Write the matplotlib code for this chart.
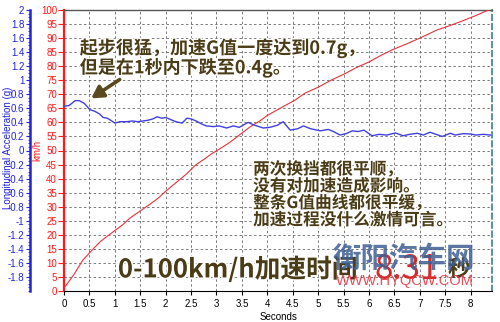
import matplotlib
matplotlib.use("Agg")
import matplotlib.pyplot as plt
import matplotlib.patheffects as pe
from matplotlib.ticker import MultipleLocator

plt.rcParams['font.family'] = ['Liberation Sans', 'Noto Sans CJK SC', 'DejaVu Sans']

# ---- data ----
time_speed = [0, 0.2, 0.37, 0.55, 0.71, 0.85, 1.0, 1.15, 1.3, 1.5, 1.7, 1.85, 2.0, 2.2, 2.4,
              2.6, 2.75, 2.9, 3.1, 3.27, 3.45, 3.66, 3.85, 4.0, 4.3, 4.55, 4.74, 5.0, 5.25,
              5.49, 5.75, 6.0, 6.25, 6.48, 6.75, 7.0, 7.34, 7.6, 7.85, 8.1, 8.35]
speed_kmh = [1, 6, 11, 14.5, 17.5, 19.5, 21.5, 23.5, 26, 28.5, 31, 33, 35.5, 38.5, 41.5,
             45, 46.8, 48.8, 51, 53, 55.5, 58.4, 60.5, 62.5, 65.5, 68, 70.4, 72.5, 75,
             77, 79.5, 81.5, 84, 86, 88, 90, 92.9, 94.5, 96.2, 98, 100]

time_g = [0, 0.1, 0.22, 0.3, 0.4, 0.51, 0.6, 0.7, 0.77, 0.85, 0.92, 1.0, 1.1, 1.23, 1.35,
          1.45, 1.55, 1.65, 1.75, 1.83, 1.92, 2.0, 2.1, 2.2, 2.32, 2.42, 2.5, 2.6, 2.7, 2.8,
          2.94, 3.05, 3.2, 3.33, 3.45, 3.62, 3.75, 3.92, 4.05, 4.2, 4.31, 4.45, 4.6, 4.71,
          4.85, 5.04, 5.2, 5.3, 5.43, 5.55, 5.67, 5.79, 5.9, 6.06, 6.2, 6.35, 6.52, 6.67,
          6.8, 6.95, 7.07, 7.2, 7.32, 7.44, 7.6, 7.7, 7.85, 8.0, 8.1, 8.25, 8.39]
accel_g = [0.63, 0.64, 0.71, 0.71, 0.67, 0.58, 0.56, 0.52, 0.47, 0.46, 0.43, 0.39, 0.41,
           0.41, 0.42, 0.41, 0.42, 0.43, 0.45, 0.48, 0.46, 0.47, 0.44, 0.41, 0.39, 0.46,
           0.45, 0.42, 0.38, 0.35, 0.34, 0.35, 0.32, 0.35, 0.33, 0.40, 0.36, 0.32, 0.33,
           0.36, 0.41, 0.29, 0.31, 0.35, 0.31, 0.28, 0.30, 0.27, 0.22, 0.24, 0.28, 0.27,
           0.29, 0.21, 0.23, 0.22, 0.25, 0.21, 0.23, 0.245, 0.22, 0.26, 0.23, 0.20, 0.245,
           0.22, 0.24, 0.235, 0.22, 0.23, 0.22]

x_ticks = [0, 0.5, 1, 1.5, 2, 2.5, 3, 3.5, 4, 4.5, 5, 5.5, 6, 6.5, 7, 7.5, 8]
speed_ticks = list(range(0, 101, 5))
g_ticks = [-1.8, -1.6, -1.4, -1.2, -1, -0.8, -0.6, -0.4, -0.2, 0, 0.2, 0.4, 0.6, 0.8,
           1, 1.2, 1.4, 1.6, 1.8, 2]

note1 = "起步很猛，加速G值一度达到0.7g，\n但是在1秒内下跌至0.4g。"
note2 = "两次换挡都很平顺，\n没有对加速造成影响。\n整条G值曲线都很平缓，\n加速过程没什么激情可言。"
big_a = "0-100km/h加速时间"
big_b = "8.31"
big_c = "秒"

RED = "#ff1a1a"
BLUE = "#2222dd"
TXT = "#4a3c16"
halo = [pe.withStroke(linewidth=2.2, foreground='white')]

fig = plt.figure(figsize=(5, 3.22), dpi=100)
ax = fig.add_axes([64/500, 1-291/322, (492-64)/500, (291-10)/322])
ax.set_xlim(0, 8.42)
ax.set_ylim(0, 100)

ax.set_xticks(x_ticks)
ax.set_xticklabels([("%g" % v) for v in x_ticks])
ax.set_yticks(speed_ticks)
ax.tick_params(axis='x', labelsize=7, length=3, pad=3, color='black')
ax.tick_params(axis='y', labelsize=7, length=4, pad=1, colors=RED)
ax.grid(True, color='#7a7a7a', linestyle=(0, (2.5, 2.5)), linewidth=0.7)
ax.set_axisbelow(True)
ax.spines['left'].set_color(RED)
ax.spines['left'].set_linewidth(1.6)
ax.spines['top'].set_color('#555555')
ax.spines['top'].set_linewidth(1.0)
ax.spines['right'].set_color('#4a8a9a')
ax.spines['right'].set_linestyle((0, (3, 2)))
ax.spines['right'].set_linewidth(1.3)
ax.spines['bottom'].set_color('black')
ax.set_xlabel("Seconds", fontsize=7, labelpad=2)

ax.plot(time_speed, speed_kmh, color="#e8323c", linewidth=0.8, zorder=3)

ax2 = ax.twinx()
ax2.set_ylim(-2, 2)
ax2.spines['left'].set_position(('outward', 24.5))
ax2.spines['left'].set_visible(True)
ax2.spines['left'].set_color(BLUE)
ax2.spines['left'].set_linewidth(1.8)
ax2.spines['right'].set_visible(False)
ax2.spines['top'].set_visible(False)
ax2.spines['bottom'].set_visible(False)
ax2.yaxis.set_ticks_position('left')
ax2.yaxis.set_label_position('left')
ax2.set_yticks(g_ticks)
ax2.set_yticklabels([("%g" % v) for v in g_ticks])
ax2.yaxis.set_minor_locator(MultipleLocator(0.05))
ax2.tick_params(axis='y', which='major', labelsize=7, length=3, pad=1, colors=BLUE)
ax2.tick_params(axis='y', which='minor', length=1.5, colors=BLUE)
ax2.plot(time_g, accel_g, color="#4040e0", linewidth=1.0, zorder=4)

fig.text(8/500, 1-148/322, "Longitudinal Acceleration (g)", rotation=90, color=BLUE,
         fontsize=7, ha='center', va='center')
fig.text(37/500, 1-150/322, "km/h", rotation=90, color=RED, fontsize=7,
         ha='center', va='center')

# annotations
ax.text(0.31, 90.0, note1, fontsize=13, color=TXT, ha='left', va='top',
        family=['Noto Sans CJK SC'], fontweight='bold', linespacing=1.0, zorder=6,
        path_effects=halo)
ax.annotate("", xy=(0.49, 68), xytext=(1.14, 75.8),
            arrowprops=dict(arrowstyle='-|>,head_length=0.7,head_width=0.4',
                            color='#5a4a1e', lw=2.6), zorder=6)
ax.text(3.72, 46.5, note2, fontsize=12, color=TXT, ha='left', va='top',
        family=['Noto Sans CJK SC'], fontweight='bold', linespacing=0.92, zorder=6,
        path_effects=halo)

ta = ax.text(1.06, 7.5, big_a, fontsize=18.5, color=TXT, ha='left', va='center',
             family=['Noto Sans CJK SC'], fontweight='bold', zorder=6, path_effects=halo)
tb = ax.annotate(big_b, xy=(1, 0.5), xycoords=ta, xytext=(12, 0), textcoords='offset points',
                 fontsize=24, color='#d42a2a', ha='left', va='center',
                 family=['Noto Sans CJK SC'], zorder=6)
tc = ax.annotate(big_c, xy=(1, 0.5), xycoords=tb, xytext=(6, 0), textcoords='offset points',
                 fontsize=16, color=TXT, ha='left', va='center',
                 family=['Noto Sans CJK SC'], fontweight='bold', zorder=6)

# watermark
fig.text(404/500, 1-259/322, "衡阳汽车网", fontsize=20.5, color='#3f5f94', alpha=0.85,
         ha='center', va='center', family=['Noto Sans CJK SC'], fontweight='bold', zorder=10)
fig.text(405/500, 1-281/322, "WWW.HYQCW.COM", fontsize=10.5, color='#e03040', alpha=0.85,
         ha='center', va='center', zorder=10)

fig.savefig("out.png", dpi=100)
